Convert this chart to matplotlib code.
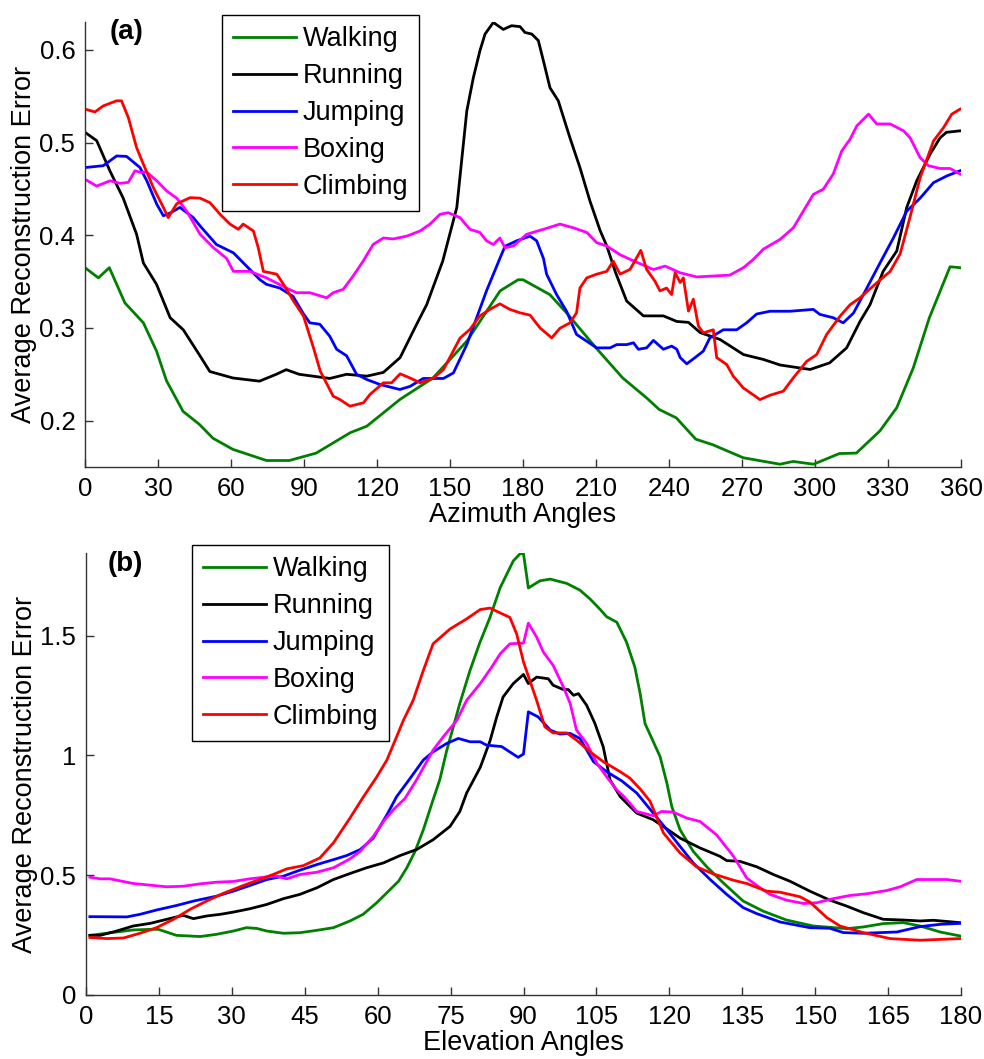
import numpy as np
import matplotlib
matplotlib.use("Agg")
import matplotlib.pyplot as plt

plt.rcParams['font.family'] = ['Liberation Sans', 'DejaVu Sans']

labels = ["Walking", "Running", "Jumping", "Boxing", "Climbing"]
colors = ["#008000", "#000000", "#0000ff", "#ff00ff", "#ff0000"]

# (a) azimuth angle vs error, (deg, value) pairs
walk_az = np.array([
    (0, .365), (5.5, .354), (10, .365), (16.4, .327), (24, .3055), (29.4, .275),
    (33.5, .243), (40.3, .210), (47, .196), (52.6, .181), (60.8, .169), (74.6, .157),
    (84, .157), (95, .165), (109, .187), (115.8, .194), (129.5, .223), (143, .246),
    (157, .286), (170.6, .340), (178, .352), (180, .352), (191, .336), (198, .316),
    (210, .2785), (221, .246), (230.8, .2245), (236, .212), (243, .203), (251, .180),
    (258, .174), (270.5, .160), (285.6, .153), (291, .156), (299.4, .153), (310, .1645),
    (317, .165), (326.7, .189), (333.6, .214), (340.4, .257), (347, .311), (355.5, .366),
    (359.6, .365)])

run_az = np.array([
    (0, .511), (4.8, .502), (10.3, .469), (15.7, .44), (21.2, .401), (24, .370),
    (29.4, .347), (35, .311), (40.4, .298), (47, .271), (51.3, .253), (60.8, .246),
    (71.7, .2426), (78.6, .250), (82.7, .255), (88, .250), (100.6, .2455), (107.5, .250),
    (115.8, .248), (122.6, .252), (129.5, .268), (136.3, .304), (140.4, .325), (147, .372),
    (152.8, .430), (156.9, .534), (159.6, .570), (162.3, .599), (164.4, .617), (167.8, .6295),
    (171.9, .622), (175.3, .626), (178.8, .625), (180.8, .6187), (183.6, .617), (186.3, .610),
    (188.4, .588), (191.1, .559), (194.5, .545), (199.3, .505), (203.4, .473), (207.5, .437),
    (211.7, .405), (214.5, .388), (218, .36), (222.6, .329), (229.5, .313), (237.7, .313),
    (243.2, .307), (248, .306), (252.8, .295), (261, .2875), (270.6, .2713), (278.8, .266),
    (285.7, .260), (298, .2552), (306, .2623), (313, .2785), (318.5, .307), (322.6, .325),
    (328, .361), (333.6, .383), (337.7, .430), (341.8, .4587), (347.3, .4875), (351.4, .505),
    (354, .511), (359.6, .5126)])

jump_az = np.array([
    (0, .473), (7.5, .475), (13, .4855), (17.1, .485), (22.6, .473), (25.4, .4587),
    (29.5, .4334), (32.2, .421), (35, .424), (39, .430), (44.5, .419), (47.3, .41),
    (54, .39), (61, .381), (71.9, .352), (74.6, .347), (80.1, .343), (85.5, .334),
    (89.6, .316), (92.4, .3055), (96.5, .304), (100.6, .291), (103.4, .277), (107.5, .270),
    (111.6, .250), (115.7, .2445), (121.2, .239), (129.4, .2336), (133.6, .237), (139, .2455),
    (147.3, .2455), (151.4, .2515), (156.9, .282), (165, .340), (170.5, .375), (172.6, .388),
    (177.4, .394), (182.9, .399), (185.6, .394), (188.4, .375), (189.7, .358), (193.8, .336),
    (197.9, .318), (202, .293), (210.3, .2785), (215.8, .2785), (218.5, .282), (222.6, .282),
    (225.4, .284), (227.4, .277), (230.8, .2785), (233.6, .2866), (237.7, .277), (241.1, .2804),
    (243.2, .277), (244.6, .268), (247.3, .2613), (250.7, .268), (254.1, .275), (256.8, .2893),
    (262.3, .298), (267.8, .298), (271.9, .3055), (276, .315), (281.5, .318), (289.7, .318),
    (299.3, .32), (302, .3146), (307.5, .311), (311.6, .3055), (315.8, .316), (319.9, .336),
    (326.7, .370), (332.2, .397), (337.7, .426), (343.2, .440), (348.7, .4567), (354.2, .464),
    (359.6, .4695)])

box_az = np.array([
    (0, .4604), (4.8, .453), (10.3, .4587), (14.4, .456), (17.8, .457), (20.5, .4695),
    (22.6, .468), (25.4, .468), (29.5, .4587), (33.6, .4477), (37.7, .440), (41.8, .426),
    (47.3, .401), (52.8, .3865), (58.2, .375), (61, .361), (67.8, .361), (74.6, .354),
    (82.8, .343), (86.9, .338), (92.4, .338), (99.3, .3325), (102, .338), (106.1, .3416),
    (110.2, .356), (114.3, .372), (118.4, .39), (122.6, .397), (126.7, .396), (132.2, .399),
    (137.7, .4046), (141.8, .412), (145.9, .4226), (149.3, .4243), (154.1, .419), (158.2, .4064),
    (162.3, .403), (165, .394), (167.8, .39), (170.5, .397), (172.6, .3865), (176, .3884),
    (181.5, .401), (188.4, .4064), (195.2, .412), (200.7, .408), (206.2, .403), (210.3, .392),
    (214.4, .3884), (219.9, .379), (224, .374), (233.6, .363), (238.4, .3667), (244.6, .3595),
    (251.4, .355), (265, .357), (270.6, .365), (274.7, .374), (278.8, .385), (285.7, .3956),
    (291.1, .408), (299.3, .444), (303.4, .4496), (307.5, .466), (311, .491), (314.4, .5035),
    (317.2, .518), (322, .5306), (325.4, .520), (330.9, .520), (336.4, .5126), (339.1, .505),
    (343.2, .4837), (346.6, .475), (351.4, .472), (355.5, .472), (359.6, .466)])

climb_az = np.array([
    (0, .536), (4.1, .533), (7.5, .5395), (13, .545), (15, .545), (17.8, .527),
    (21.2, .4945), (24, .4766), (28.1, .4513), (32.2, .430), (34.2, .419), (37.7, .434),
    (43.2, .4405), (47.3, .440), (51.4, .435), (55.5, .4226), (59.6, .412), (63, .4064),
    (65, .412), (69.2, .4046), (71.2, .3865), (73.3, .361), (78.8, .358), (81.6, .347),
    (85.7, .329), (89.8, .3127), (93.9, .2785), (96.7, .2533), (102, .2264), (104.8, .2227),
    (108.9, .2156), (114.4, .2192), (117.1, .2282), (122.6, .2408), (126, .2408), (129.5, .2505),
    (133.6, .246), (137.7, .2408), (143.2, .246), (147.3, .255), (154.1, .289), (158.2, .2985),
    (162.3, .313), (166.4, .32), (170.5, .326), (174.6, .32), (178.8, .3163), (182.9, .3138),
    (187, .300), (191.8, .2893), (195.2, .2997), (199.3, .3055), (202, .3163), (203.4, .343),
    (206.2, .354), (210.3, .358), (214.4, .361), (217.1, .372), (219.9, .358), (224, .3632),
    (226.7, .3757), (228.4, .3837), (230.8, .3632), (234.2, .3505), (236.3, .340), (239, .343),
    (241.1, .336), (242.5, .3595), (244.6, .349), (245.9, .354), (248, .3182), (250, .331),
    (252.1, .302), (254.1, .2947), (258.2, .298), (259.6, .268), (263.7, .2606), (266.4, .248),
    (270.5, .2354), (277.4, .2227), (281.5, .2274), (287, .2318), (291.1, .2462), (296.6, .264),
    (300.7, .2713), (304.8, .293), (310.3, .3127), (314.4, .325), (318.5, .3325), (325.4, .3487),
    (330.9, .361), (335, .38), (339, .419), (343.2, .462), (348.7, .5017), (352.8, .516),
    (356.2, .5306), (359.6, .536)])

# (b) elevation angle vs error
walk_el = np.array([
    (0.8, .249), (6.3, .263), (9.7, .2715), (13.2, .274), (14.9, .274), (18.6, .249),
    (23.5, .244), (26.9, .2535), (30.3, .267), (33, .281), (35.1, .278), (37.2, .267),
    (40.6, .2577), (44, .26), (47.5, .270), (50.9, .281), (54.3, .309), (57, .3367),
    (59.8, .385), (61.9, .427), (64.3, .475), (66, .531), (67.7, .60), (69.4, .69),
    (71.4, .815), (72.8, .90), (74.2, 1.02), (76.9, 1.217), (79, 1.355), (81, 1.47),
    (83.1, 1.576), (85.2, 1.70), (87.9, 1.812), (89.3, 1.842), (90, 1.842), (91, 1.699),
    (93.4, 1.729), (95.5, 1.736), (98.9, 1.718), (101.6, 1.690), (103.7, 1.653), (105.7, 1.611),
    (107.1, 1.579), (109.2, 1.556), (111.2, 1.4725), (112.9, 1.369), (114, 1.258), (115, 1.133),
    (118.1, .995), (119.5, .884), (120.5, .787), (122.2, .69), (124.9, .60), (127.7, .535),
    (131.1, .468), (135.2, .392), (139.3, .350), (144.1, .313), (149.6, .288), (156.5, .277),
    (159.9, .284), (164, .298), (168.1, .302), (171.6, .288), (175.7, .263), (179.8, .2465)])

run_el = np.array([
    (0.8, .249), (2.9, .249), (6.3, .267), (9.7, .288), (13.2, .299), (16.6, .316),
    (20, .3325), (22.1, .3187), (24.8, .3297), (27.6, .3367), (30.3, .346), (33.7, .360),
    (37.2, .378), (40.6, .402), (44, .42), (47.5, .4475), (50.9, .482), (54.3, .507),
    (57.7, .531), (61.2, .5515), (64.6, .582), (68, .607), (71.4, .648), (74.9, .704),
    (76.9, .766), (78.3, .843), (81.1, .95), (83.1, 1.06), (84.5, 1.161), (85.8, 1.244),
    (87.9, 1.30), (90, 1.338), (91, 1.30), (92.7, 1.327), (95.1, 1.32), (96.1, 1.293),
    (98.2, 1.275), (99.2, 1.275), (100.3, 1.251), (101.3, 1.258), (103, 1.209), (104.7, 1.133),
    (106.4, 1.036), (107.8, .898), (109.9, .828), (113.3, .759), (116.7, .7315), (119.5, .693),
    (122.2, .655), (126.3, .614), (130.4, .579), (131.8, .561), (134.5, .558), (138, .535),
    (141.4, .503), (144.8, .475), (148.9, .4335), (153, .396), (156.5, .371), (159.9, .3437),
    (164, .316), (168.1, .313), (171.6, .309), (174.3, .312), (179.8, .302)])

jump_el = np.array([
    (0.8, .327), (8.4, .326), (11.1, .3367), (14.5, .3547), (18.7, .374), (22.1, .392),
    (26.9, .4128), (30.3, .4335), (33.7, .457), (37.2, .482), (40.6, .496), (44, .521),
    (47.5, .5445), (50.9, .565), (53.6, .582), (56.4, .607), (59.1, .655), (60.5, .704),
    (61.9, .752), (63.9, .828), (66.7, .905), (69.4, .981), (71.4, 1.015), (74.2, 1.05),
    (76.6, 1.071), (79, 1.057), (81.1, 1.057), (82.4, 1.043), (85.5, 1.037), (88.9, .992),
    (90, 1.006), (91, 1.182), (93, 1.161), (95.5, 1.106), (97.5, 1.089), (99.6, 1.092),
    (101.6, 1.071), (104.4, .974), (107.1, .932), (110.2, .894), (113.3, .843), (116.7, .759),
    (119.5, .69), (122.2, .6205), (124.9, .5515), (128.4, .482), (131.8, .42), (135.2, .3645),
    (138, .3395), (142.8, .3047), (148.9, .281), (153, .2785), (155.8, .2605), (159.9, .2577),
    (166.8, .263), (171.6, .2855), (175.7, .295), (179.8, .299)])

box_el = np.array([
    (0.8, .4917), (2.9, .485), (4.9, .485), (9.7, .4655), (16.6, .4517), (20, .454),
    (23.5, .464), (26.9, .471), (30.3, .474), (33.7, .485), (37.2, .493), (39.2, .496),
    (41.3, .485), (44, .503), (47.5, .5125), (50.9, .531), (54.3, .568), (56.4, .60),
    (59.1, .662), (61.2, .7245), (63.2, .773), (65.6, .82), (68, .898), (71.4, 1.022),
    (73.5, 1.078), (76.3, 1.147), (78.3, 1.23), (81.1, 1.30), (83.5, 1.37), (85.2, 1.424),
    (87.2, 1.466), (90, 1.469), (91, 1.552), (92.7, 1.494), (94.1, 1.431), (96.1, 1.376),
    (98.2, 1.286), (99.6, 1.217), (100.9, 1.106), (103, 1.05), (105.1, .967), (107.1, .911),
    (109.2, .856), (110.7, .828), (113.3, .766), (116.7, .748), (118.4, .766), (120.8, .7635),
    (123.6, .7385), (126.3, .7245), (129.7, .669), (133.2, .579), (135.9, .489), (138, .457),
    (140.7, .42), (144.1, .396), (147.6, .382), (150.3, .385), (153.7, .402), (157.2, .4156),
    (160.6, .4225), (164.7, .436), (167.5, .4517), (170.9, .482), (174.3, .482), (177.1, .482),
    (179.8, .475)])

climb_el = np.array([
    (0.8, .24), (4.3, .2355), (7.7, .238), (11.1, .2577), (14.5, .281), (18, .316),
    (21.4, .3574), (24.8, .392), (28.2, .424), (31.7, .4517), (35.1, .478), (38.5, .503),
    (41.3, .5265), (44.7, .540), (48.1, .572), (50.9, .635), (54.3, .7385), (57, .825),
    (59.8, .91), (61.9, .981), (63.9, 1.078), (65.3, 1.147), (67.3, 1.23), (69.4, 1.355),
    (71.4, 1.466), (74.9, 1.528), (78.3, 1.57), (81.1, 1.609), (83.1, 1.615), (85.2, 1.595),
    (87.2, 1.576), (88.6, 1.507), (90, 1.39), (91.3, 1.313), (92.7, 1.23), (94.4, 1.119),
    (96.1, 1.094), (98.9, 1.094), (100.9, 1.064), (103.7, 1.015), (106.4, .974), (109.9, .932),
    (111.9, .905), (114, .86), (116, .81), (118.8, .676), (122.2, .593), (125.6, .535),
    (129, .5057), (133.2, .479), (135.9, .4655), (140, .4335), (142.8, .429), (146.9, .41),
    (148.9, .388), (152.4, .323), (155.1, .288), (159.9, .2605), (165.4, .2355), (171.6, .2286),
    (179.8, .2355)])

az_ticks = list(range(0, 361, 30))
el_ticks = list(range(0, 181, 15))
az_yticks = [0.2, 0.3, 0.4, 0.5, 0.6]
el_yticks = [0, 0.5, 1, 1.5]
el_ytick_labels = ["0", "0.5", "1", "1.5"]

fig = plt.figure(figsize=(9.84, 10.59), dpi=100)
W, H = 984, 1059
ax1 = fig.add_axes([85 / W, 1 - 467 / H, 876 / W, 445 / H])
ax2 = fig.add_axes([86 / W, 1 - 995 / H, 875 / W, 442 / H])


def style(ax):
    for s in ["top", "right"]:
        ax.spines[s].set_visible(False)
    for s in ["left", "bottom"]:
        ax.spines[s].set_linewidth(1.0)
        ax.spines[s].set_color("#333333")
    ax.tick_params(direction="in", length=6, width=1, color="#333333",
                   labelsize=18.5, pad=7)


for data, c, lab in zip([walk_az, run_az, jump_az, box_az, climb_az], colors, labels):
    ax1.plot(data[:, 0], data[:, 1], color=c, lw=2.0, label=lab)
ax1.set_xlim(0, 360)
ax1.set_ylim(0.15, 0.63)
ax1.set_xticks(az_ticks)
ax1.set_yticks(az_yticks)
ax1.set_xlabel("Azimuth Angles", fontsize=19.5, labelpad=1)
ax1.set_ylabel("Average Reconstruction Error", fontsize=19.5, labelpad=2)
style(ax1)

for data, c, lab in zip([walk_el, run_el, jump_el, box_el, climb_el], colors, labels):
    ax2.plot(data[:, 0], data[:, 1], color=c, lw=2.0, label=lab)
ax2.set_xlim(0, 180)
ax2.set_ylim(0, 1.845)
ax2.set_xticks(el_ticks)
ax2.set_yticks(el_yticks)
ax2.set_yticklabels(el_ytick_labels)
ax2.set_xlabel("Elevation Angles", fontsize=19.5, labelpad=1)
ax2.set_ylabel("Average Reconstruction Error", fontsize=19.5, labelpad=2)
style(ax2)

for ax, (lx, ly) in [(ax1, (222, 15)), (ax2, (192, 545))]:
    leg = ax.legend(loc="upper left", bbox_to_anchor=(lx / W, 1 - ly / H),
                    bbox_transform=fig.transFigure, borderaxespad=0,
                    fontsize=19.5, handlelength=2.3, handletextpad=0.25,
                    labelspacing=0.4, borderpad=0.42, fancybox=False,
                    framealpha=1, edgecolor="black")
    leg.get_frame().set_linewidth(1.0)

fig.text(110 / W, 1 - 32 / H, "(a)", fontsize=20, fontweight="bold", va="center")
fig.text(108 / W, 1 - 564 / H, "(b)", fontsize=20, fontweight="bold", va="center")

fig.savefig("out.png", dpi=100)
